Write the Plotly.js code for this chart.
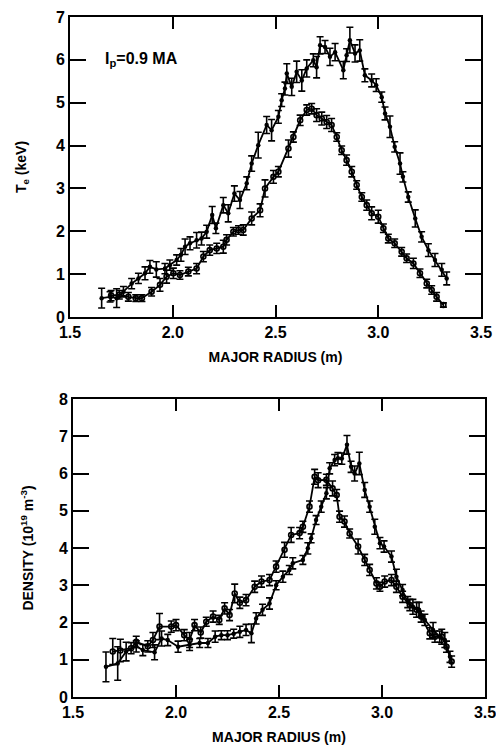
<!DOCTYPE html>
<html>
<head>
<meta charset="utf-8">
<script src="https://cdn.plot.ly/plotly-3.0.1.min.js"></script>
<style>html,body{margin:0;padding:0;background:#fff;}#chart{width:496px;height:752px;}</style>
</head>
<body>
<div id="chart"></div>
<script>
// ---- Electron temperature (top panel) ----
var teR_A = [1.654,1.695,1.727,1.760,1.800,1.833,1.865,1.889,1.920,1.962,1.986,2.019,2.040,2.060,2.084,2.116,2.140,2.165,2.192,2.210,2.246,2.270,2.300,2.327,2.360,2.384,2.416,2.457,2.481,2.514,2.530,2.546,2.555,2.579,2.603,2.628,2.652,2.684,2.700,2.717,2.741,2.765,2.790,2.830,2.846,2.862,2.887,2.910,2.935,2.968,2.990,3.017,3.033,3.057,3.080,3.106,3.120,3.146,3.180,3.211,3.244,3.276,3.309,3.333];
var teA   = [0.44,0.47,0.44,0.59,0.78,0.90,1.02,1.17,1.11,1.13,1.21,1.33,1.45,1.64,1.72,1.79,1.83,1.99,2.38,2.07,2.61,2.42,2.88,2.73,3.12,3.58,4.01,4.48,4.36,4.67,5.06,5.33,5.68,5.37,5.72,5.52,5.80,5.99,5.83,6.34,6.30,6.07,6.18,5.76,6.11,6.46,6.15,6.22,5.64,5.52,5.41,5.13,4.75,4.44,3.97,3.58,3.27,2.80,2.30,1.87,1.56,1.33,1.10,0.90];
var teA_err = [0.23,0.12,0.22,0.12,0.12,0.12,0.15,0.15,0.18,0.12,0.12,0.12,0.15,0.18,0.15,0.18,0.15,0.15,0.20,0.12,0.18,0.20,0.18,0.20,0.15,0.18,0.30,0.20,0.25,0.15,0.15,0.15,0.23,0.20,0.25,0.25,0.20,0.15,0.25,0.20,0.15,0.20,0.20,0.20,0.15,0.30,0.20,0.25,0.15,0.15,0.15,0.12,0.15,0.25,0.12,0.25,0.12,0.12,0.20,0.12,0.15,0.15,0.15,0.15];

var teR_B = [1.700,1.740,1.784,1.820,1.850,1.897,1.938,1.970,2.003,2.035,2.076,2.116,2.149,2.180,2.214,2.246,2.262,2.295,2.320,2.343,2.384,2.425,2.449,2.490,2.514,2.563,2.587,2.620,2.652,2.676,2.700,2.725,2.749,2.773,2.798,2.822,2.846,2.871,2.895,2.920,2.944,2.968,3.000,3.025,3.049,3.080,3.114,3.138,3.171,3.203,3.236,3.260,3.284,3.317];
var teB   = [0.50,0.52,0.47,0.44,0.44,0.59,0.75,0.94,1.02,0.98,1.06,1.13,1.41,1.56,1.60,1.64,1.80,1.99,2.03,2.03,2.30,2.49,3.00,3.27,3.39,3.93,4.20,4.59,4.83,4.86,4.71,4.63,4.55,4.48,4.20,3.89,3.66,3.39,3.08,2.80,2.61,2.42,2.34,2.07,1.83,1.72,1.52,1.37,1.25,1.02,0.78,0.63,0.47,0.28];
var teB_err = [0.12,0.10,0.10,0.08,0.08,0.10,0.15,0.15,0.12,0.10,0.10,0.12,0.12,0.12,0.12,0.15,0.12,0.10,0.10,0.12,0.15,0.15,0.20,0.15,0.12,0.20,0.12,0.12,0.12,0.12,0.15,0.15,0.15,0.15,0.10,0.10,0.12,0.12,0.10,0.10,0.12,0.15,0.15,0.10,0.10,0.10,0.10,0.10,0.12,0.10,0.10,0.10,0.10,0.05];

// ---- Density (bottom panel) ----
var neR_A = [1.660,1.717,1.758,1.807,1.839,1.896,1.930,1.960,2.010,2.066,2.115,2.155,2.190,2.220,2.250,2.280,2.310,2.340,2.366,2.389,2.420,2.454,2.486,2.519,2.550,2.567,2.616,2.640,2.656,2.680,2.705,2.730,2.746,2.770,2.786,2.805,2.830,2.850,2.867,2.890,2.916,2.940,2.965,2.990,3.010,3.046,3.070,3.100,3.125,3.150,3.180,3.208,3.248,3.280,3.305,3.330];
var neA   = [0.81,0.90,1.22,1.36,1.26,1.20,1.57,1.53,1.35,1.40,1.45,1.45,1.62,1.66,1.66,1.70,1.75,1.80,1.71,2.11,2.34,2.51,3.00,3.23,3.41,3.59,3.68,3.99,4.26,4.75,5.11,5.47,6.14,6.36,6.41,6.40,6.77,6.18,6.00,6.27,5.56,5.11,4.57,4.13,4.04,3.77,3.23,2.87,2.55,2.42,2.34,2.07,1.80,1.62,1.53,1.08];
var neA_err = [0.40,0.45,0.25,0.15,0.15,0.20,0.20,0.15,0.15,0.15,0.12,0.12,0.15,0.12,0.12,0.12,0.15,0.15,0.25,0.15,0.15,0.15,0.12,0.15,0.12,0.15,0.12,0.15,0.12,0.12,0.15,0.15,0.15,0.15,0.15,0.15,0.25,0.15,0.20,0.30,0.20,0.15,0.20,0.15,0.15,0.15,0.20,0.15,0.15,0.20,0.20,0.15,0.20,0.15,0.20,0.15];

var neR_B = [1.693,1.730,1.782,1.807,1.863,1.888,1.920,1.977,2.000,2.040,2.066,2.090,2.120,2.147,2.180,2.210,2.236,2.260,2.285,2.310,2.340,2.382,2.415,2.454,2.486,2.527,2.559,2.600,2.616,2.648,2.673,2.690,2.730,2.760,2.780,2.794,2.818,2.843,2.884,2.916,2.940,2.973,2.990,3.013,3.046,3.070,3.100,3.135,3.168,3.190,3.232,3.257,3.290,3.313,3.338];
var neB   = [1.22,1.25,1.31,1.48,1.36,1.53,1.89,1.89,1.93,1.66,1.53,1.93,1.73,2.02,2.16,2.07,2.38,2.20,2.78,2.53,2.60,2.96,3.10,3.14,3.50,3.95,4.35,4.40,4.57,5.11,5.91,5.82,5.83,5.60,5.42,4.84,4.71,4.39,4.04,3.68,3.41,3.05,2.96,3.10,3.14,2.96,2.69,2.47,2.34,2.16,1.71,1.62,1.62,1.35,0.95];
var neB_err = [0.35,0.30,0.15,0.15,0.15,0.20,0.35,0.15,0.15,0.15,0.20,0.15,0.15,0.12,0.15,0.12,0.15,0.15,0.25,0.15,0.15,0.15,0.15,0.15,0.15,0.20,0.20,0.15,0.15,0.15,0.20,0.20,0.15,0.20,0.15,0.15,0.15,0.12,0.20,0.15,0.15,0.15,0.12,0.15,0.15,0.15,0.15,0.15,0.20,0.15,0.15,0.15,0.20,0.15,0.15];

var xTicks = [1.5,2.0,2.5,3.0,3.5];
var xTickText = ['1.5','2.0','2.5','3.0','3.5'];
var teTicks = [0,1,2,3,4,5,6,7];
var neTicks = [0,1,2,3,4,5,6,7,8];

var FONT = 'Liberation Sans, Arial, sans-serif';

function series(x, y, err, xa, ya, filled) {
  return {
    x: x, y: y, xaxis: xa, yaxis: ya,
    type: 'scatter', mode: 'lines+markers',
    line: {color: '#000', width: 1.8},
    marker: filled
      ? {symbol: 'circle', size: 4.5, color: '#000'}
      : {symbol: 'circle-open', size: 5, color: '#000', line: {width: 1.6}},
    error_y: {type: 'data', array: err, visible: true, color: '#000', thickness: 1.6, width: 3.5},
    showlegend: false, hoverinfo: 'skip'
  };
}

var data = [
  series(teR_A, teA, teA_err, 'x', 'y', true),
  series(teR_B, teB, teB_err, 'x', 'y', false),
  series(neR_A, neA, neA_err, 'x2', 'y2', true),
  series(neR_B, neB, neB_err, 'x2', 'y2', false)
];

function xaxis(domain, anchor) {
  return {
    domain: domain, anchor: anchor, range: [1.5, 3.5],
    tickmode: 'array', tickvals: xTicks, ticktext: xTickText,
    ticks: 'inside', ticklen: 12, tickwidth: 2, tickcolor: '#000',
    ticklabeloverflow: 'allow',
    showline: true, linecolor: '#000', linewidth: 2, mirror: 'ticks',
    showgrid: false, zeroline: false,
    tickfont: {family: FONT, size: 16, color: '#000', weight: 'bold'},
    title: {text: 'MAJOR RADIUS (m)', standoff: 12,
            font: {family: FONT, size: 14, color: '#000', weight: 'bold'}}
  };
}
function yaxis(domain, anchor, range, ticks, title, standoff) {
  return {
    domain: domain, anchor: anchor, range: range,
    tickmode: 'array', tickvals: ticks,
    ticks: 'inside', ticklen: 16, tickwidth: 2, tickcolor: '#000',
    showline: true, linecolor: '#000', linewidth: 2, mirror: 'ticks',
    showgrid: false, zeroline: false,
    tickfont: {family: FONT, size: 16, color: '#000', weight: 'bold'},
    title: {text: title, standoff: standoff,
            font: {family: FONT, size: 14, color: '#000', weight: 'bold'}}
  };
}

var layout = {
  width: 496, height: 752,
  margin: {l: 0, r: 0, t: 0, b: 0},
  paper_bgcolor: '#fff', plot_bgcolor: '#fff',
  xaxis: xaxis([70/496, 481/496], 'y'),
  yaxis: yaxis([435/752, 735/752], 'x', [0, 7], teTicks, 'T<sub>e</sub> (keV)', 26),
  xaxis2: xaxis([73/496, 485/496], 'y2'),
  yaxis2: yaxis([55/752, 353/752], 'x2', [0, 8], neTicks, 'DENSITY (10<sup>19</sup> m<sup>-3</sup>)', 22),
  annotations: [{
    xref: 'x', yref: 'y', x: 1.66, y: 6.0, xanchor: 'left', yanchor: 'middle',
    text: 'I<sub>p</sub>=0.9 MA', showarrow: false,
    font: {family: FONT, size: 16, color: '#000', weight: 'bold'}
  }]
};

Plotly.newPlot('chart', data, layout, {staticPlot: true, displayModeBar: false});
</script>
</body>
</html>
